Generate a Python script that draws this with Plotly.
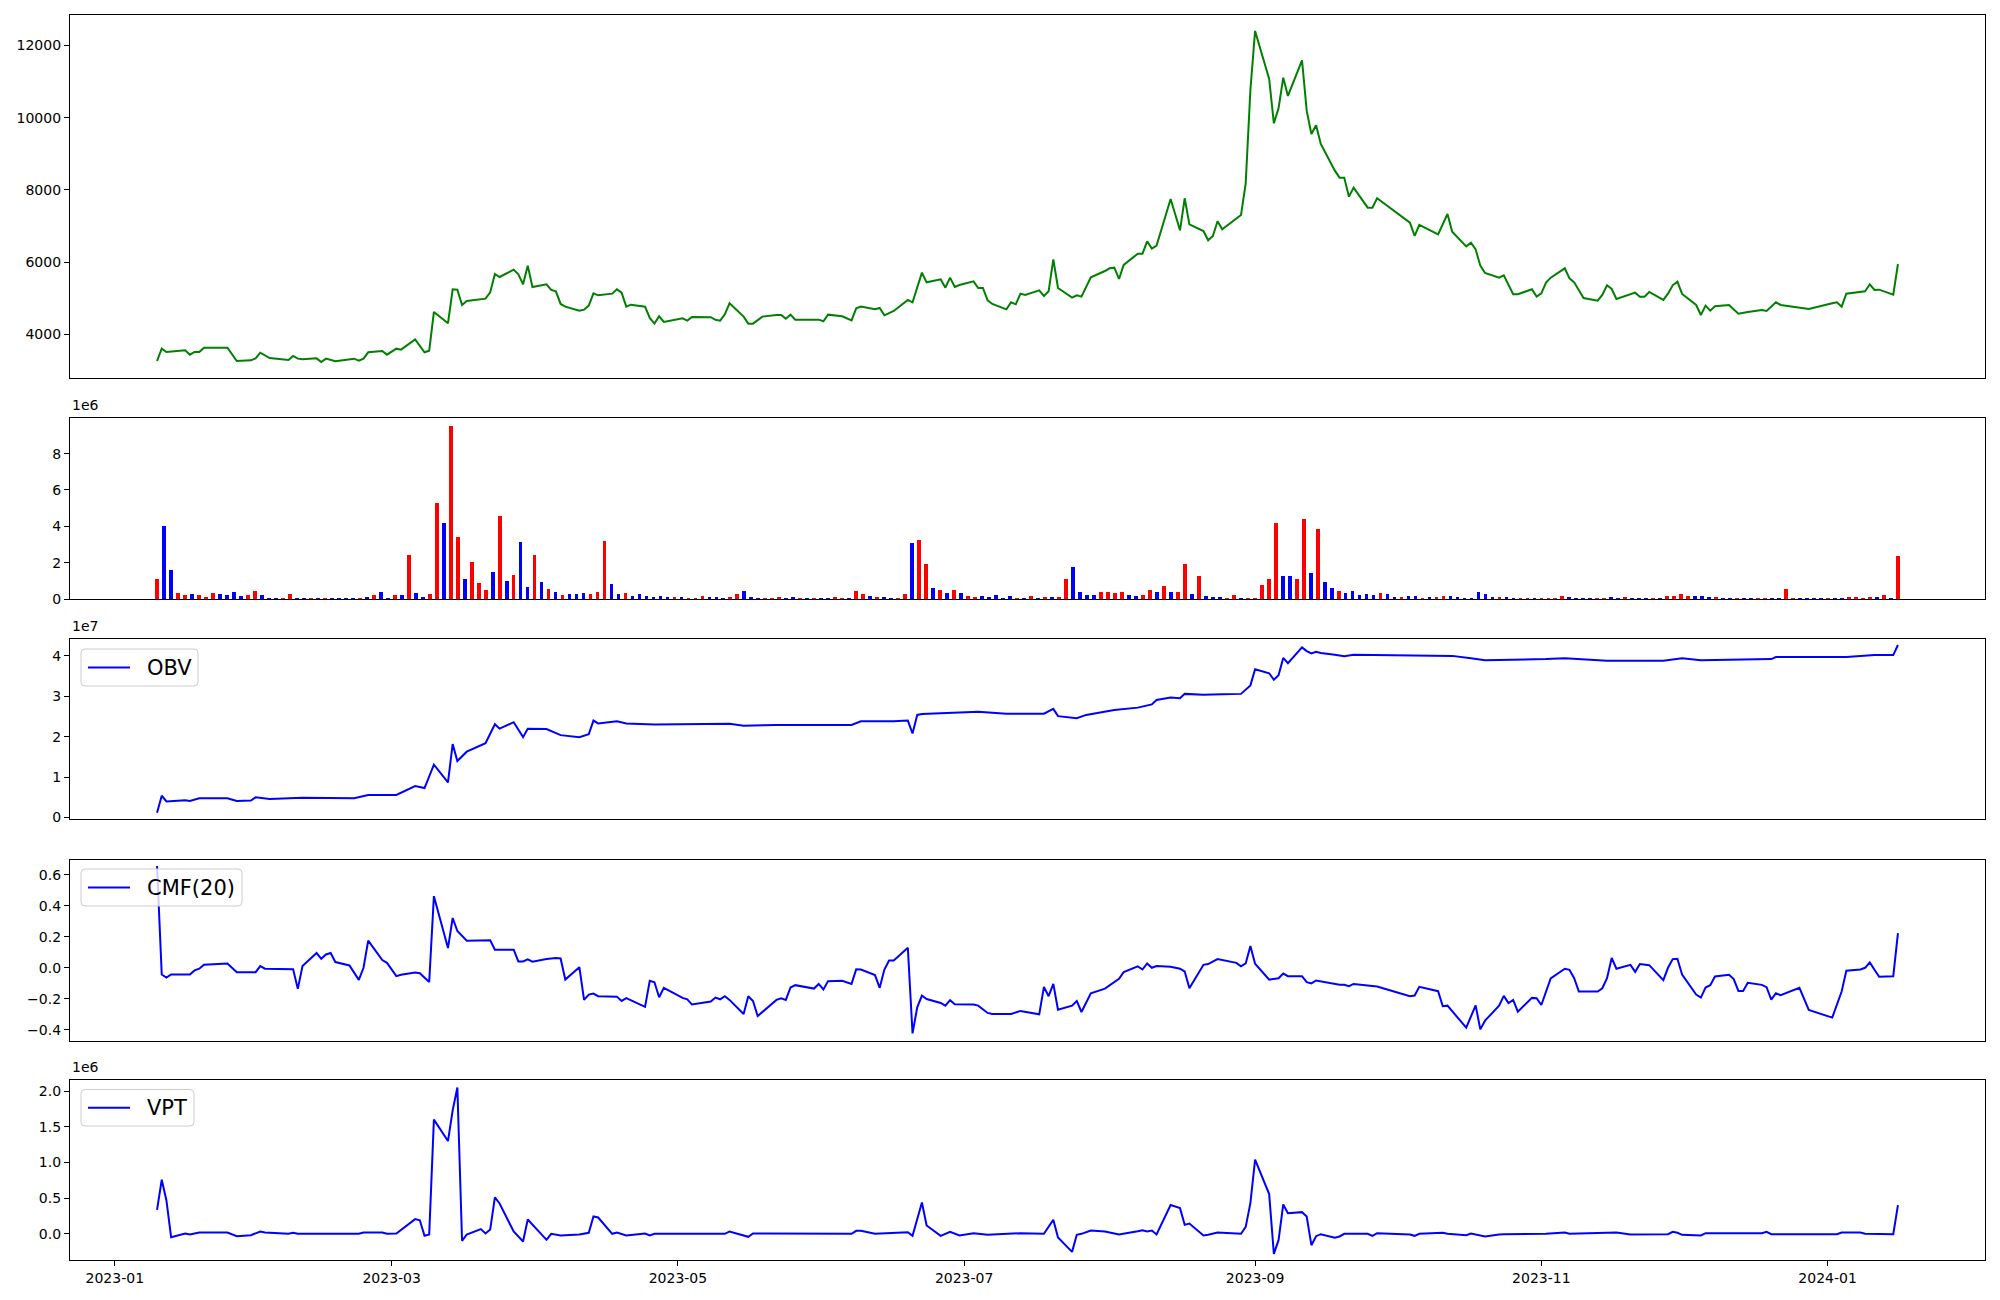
import pandas as pd
import plotly.graph_objects as go
from plotly.subplots import make_subplots

# ---------------- data ----------------
PRICE_DATES = [
    "2023-01-10","2023-01-11","2023-01-12","2023-01-16","2023-01-17","2023-01-18","2023-01-19","2023-01-20",
    "2023-01-25","2023-01-27","2023-01-30","2023-01-31","2023-02-01","2023-02-03","2023-02-07","2023-02-08",
    "2023-02-09","2023-02-10","2023-02-13","2023-02-14","2023-02-15","2023-02-17","2023-02-21","2023-02-22",
    "2023-02-23","2023-02-24","2023-02-27","2023-02-28","2023-03-02","2023-03-03","2023-03-06","2023-03-08",
    "2023-03-09","2023-03-10","2023-03-13","2023-03-14","2023-03-15","2023-03-16","2023-03-17","2023-03-21",
    "2023-03-22","2023-03-23","2023-03-24","2023-03-27","2023-03-28","2023-03-29","2023-03-30","2023-03-31",
    "2023-04-03","2023-04-04","2023-04-05","2023-04-06","2023-04-07","2023-04-10","2023-04-11","2023-04-12",
    "2023-04-13","2023-04-14","2023-04-17","2023-04-18","2023-04-19","2023-04-20","2023-04-21","2023-04-24",
    "2023-04-25","2023-04-26","2023-04-27","2023-04-28","2023-05-02","2023-05-03","2023-05-04","2023-05-08",
    "2023-05-09","2023-05-10","2023-05-11","2023-05-12","2023-05-15","2023-05-16","2023-05-17","2023-05-19",
    "2023-05-22","2023-05-23","2023-05-24","2023-05-25","2023-05-26","2023-05-31","2023-06-01","2023-06-02",
    "2023-06-05","2023-06-07","2023-06-08","2023-06-09","2023-06-12","2023-06-13","2023-06-14","2023-06-15",
    "2023-06-16","2023-06-19","2023-06-20","2023-06-22","2023-06-23","2023-06-26","2023-06-27","2023-06-28",
    "2023-06-29","2023-06-30","2023-07-03","2023-07-04","2023-07-05","2023-07-06","2023-07-07","2023-07-10",
    "2023-07-11","2023-07-12","2023-07-13","2023-07-14","2023-07-17","2023-07-18","2023-07-19","2023-07-20",
    "2023-07-21","2023-07-24","2023-07-25","2023-07-26","2023-07-27","2023-07-28","2023-07-31","2023-08-01",
    "2023-08-02","2023-08-03","2023-08-04","2023-08-07","2023-08-08","2023-08-09","2023-08-10","2023-08-11",
    "2023-08-14","2023-08-16","2023-08-17","2023-08-18","2023-08-21","2023-08-22","2023-08-23","2023-08-24",
    "2023-08-25","2023-08-29","2023-08-30","2023-08-31","2023-09-01","2023-09-04","2023-09-05","2023-09-06",
    "2023-09-07","2023-09-08","2023-09-11","2023-09-12","2023-09-13","2023-09-14","2023-09-15","2023-09-18",
    "2023-09-19","2023-09-20","2023-09-21","2023-09-22","2023-09-25","2023-09-26","2023-09-27","2023-10-04",
    "2023-10-05","2023-10-06","2023-10-10","2023-10-11","2023-10-12","2023-10-13","2023-10-16","2023-10-17",
    "2023-10-18","2023-10-19","2023-10-20","2023-10-23","2023-10-24","2023-10-26","2023-10-27","2023-10-30",
    "2023-10-31","2023-11-01","2023-11-02","2023-11-03","2023-11-06","2023-11-07","2023-11-08","2023-11-10",
    "2023-11-13","2023-11-14","2023-11-15","2023-11-16","2023-11-17","2023-11-21","2023-11-22","2023-11-23",
    "2023-11-24","2023-11-27","2023-11-28","2023-11-29","2023-11-30","2023-12-01","2023-12-04","2023-12-05",
    "2023-12-06","2023-12-07","2023-12-08","2023-12-11","2023-12-12","2023-12-13","2023-12-15","2023-12-18",
    "2023-12-19","2023-12-20","2023-12-21","2023-12-22","2023-12-26","2023-12-28","2024-01-02","2024-01-03",
    "2024-01-04","2024-01-05","2024-01-09","2024-01-10","2024-01-11","2024-01-12","2024-01-15","2024-01-16",
]
PRICE = [
    3257,3599,3507,3553,3433,3507,3507,3627,
    3627,3257,3276,3331,3488,3340,3285,3396,
    3322,3303,3331,3229,3322,3248,3322,3266,
    3322,3498,3535,3433,3599,3572,3858,3498,
    3544,4616,4302,5244,5235,4810,4921,4985,
    5161,5669,5586,5790,5660,5383,5900,5309,
    5383,5226,5189,4838,4764,4653,4681,4792,
    5134,5078,5124,5244,5152,4764,4819,4764,
    4450,4293,4496,4339,4441,4376,4478,4472,
    4400,4376,4552,4857,4487,4293,4293,4487,
    4533,4533,4431,4542,4404,4404,4358,4542,
    4496,4385,4718,4764,4690,4727,4524,4579,
    4644,4949,4884,5706,5438,5521,5290,5567,
    5309,5364,5466,5281,5281,4939,4838,4690,
    4884,4829,5124,5087,5217,5060,5189,6076,
    5281,5013,5078,5041,5309,5577,5752,5826,
    5845,5531,5919,6233,6233,6575,6372,6455,
    7749,6880,7767,7046,6861,6603,6723,7130,
    6908,7305,8183,10770,12406,11075,9846,10262,
    11112,10604,11593,10197,9550,9791,9273,8534,
    8340,8340,7813,8063,7508,7508,7767,7092,
    6723,7028,6769,7074,7333,6843,6436,6538,
    6353,5900,5697,5567,5632,5106,5106,5244,
    5041,5134,5429,5567,5826,5549,5438,5004,
    4930,5087,5355,5253,4976,5152,5041,5041,
    5170,4949,5124,5355,5457,5115,4810,4533,
    4792,4653,4773,4810,4699,4570,4616,4671,
    4644,4764,4884,4810,4736,4699,4857,4884,
    4764,5124,5189,5383,5226,5235,5096,5946,
]

# volume per trading day, in millions; U = red bar, D = blue bar
VOLUME_M = [
    1.08,4.00,1.58,0.31,0.20,0.26,0.20,0.09,0.31,0.26,
    0.20,0.37,0.15,0.20,0.42,0.20,0.04,0.04,0.04,0.26,
    0.04,0.04,0.04,0.04,0.04,0.04,0.04,0.04,0.01,0.04,
    0.09,0.20,0.37,0.04,0.20,0.20,2.41,0.31,0.09,0.26,
    5.28,4.17,9.52,3.40,1.08,2.02,0.86,0.48,1.47,4.56,
    0.97,1.30,3.13,0.64,2.41,0.92,0.53,0.37,0.20,0.26,
    0.26,0.31,0.26,0.37,3.18,0.81,0.26,0.31,0.15,0.26,
    0.15,0.09,0.15,0.09,0.09,0.09,0.04,0.04,0.15,0.09,
    0.09,0.04,0.09,0.26,0.42,0.09,0.04,0.04,0.04,0.09,
    0.04,0.09,0.04,0.04,0.04,0.04,0.01,0.09,0.01,0.04,
    0.42,0.26,0.15,0.09,0.09,0.01,0.04,0.26,3.07,3.24,
    1.91,0.59,0.48,0.31,0.48,0.31,0.15,0.09,0.15,0.09,
    0.20,0.04,0.15,0.04,0.04,0.15,0.04,0.09,0.09,0.09,
    1.08,1.75,0.37,0.20,0.20,0.37,0.37,0.31,0.37,0.20,
    0.15,0.20,0.48,0.37,0.70,0.37,0.37,1.91,0.26,1.25,
    0.15,0.09,0.09,0.04,0.20,0.04,0.04,0.01,0.75,1.08,
    4.17,1.25,1.25,1.08,4.39,1.42,3.84,0.92,0.59,0.42,
    0.31,0.42,0.20,0.26,0.20,0.31,0.26,0.09,0.09,0.15,
    0.15,0.04,0.09,0.09,0.15,0.15,0.09,0.04,0.04,0.37,
    0.26,0.09,0.09,0.09,0.04,0.04,0.04,0.04,0.04,0.04,
    0.04,0.15,0.09,0.04,0.04,0.04,0.04,0.04,0.09,0.04,
    0.09,0.04,0.04,0.04,0.04,0.04,0.15,0.15,0.26,0.15,
    0.15,0.15,0.09,0.09,0.01,0.01,0.04,0.04,0.04,0.04,
    0.04,0.01,0.01,0.53,0.04,0.04,0.04,0.01,0.01,0.04,
    0.04,0.04,0.09,0.09,0.04,0.09,0.09,0.20,0.04,2.35,
]
VOLUME_DIR = (
    "UDDUUDUUUD" "DDDUUDDDUU" "DDUDUDDDDU" "DUDDUDUDDU"
    "UDUUDUUUDU" "DUDDUDUDUD" "DDUUUDDUDD" "DDDDUDUUUD"
    "DDUUDDDUUU" "DDUDUDDUUD" "UUDUDDUUDU" "UDUDUDUUDD"
    "DDDUDUDUDU" "UDDDDUUUUD" "DUUDUDUUDU" "DDDUUDUUUU"
    "UDDUUDUDDU" "DDDDDUDDUD" "DUDUUDDDDD" "DDUDDUUDUU"
    "UUDDDDUUDD" "UDDDUDUUUU" "DDDUDDUDDU" "UDDUUDDDDU"
    "DDUUUUDUDU"
)
VOLUME_START, VOLUME_END = "2023-01-10", "2024-01-16"

OBV_DATES = [
    "2023-01-10","2023-01-11","2023-01-12","2023-01-16","2023-01-17","2023-01-19","2023-01-25","2023-01-27",
    "2023-01-30","2023-01-31","2023-02-03","2023-02-10","2023-02-21","2023-02-24","2023-03-02","2023-03-06",
    "2023-03-08","2023-03-10","2023-03-13","2023-03-14","2023-03-15","2023-03-17","2023-03-21","2023-03-23",
    "2023-03-24","2023-03-27","2023-03-29","2023-03-30","2023-04-03","2023-04-06","2023-04-10","2023-04-12",
    "2023-04-13","2023-04-14","2023-04-18","2023-04-20","2023-04-26","2023-05-08","2023-05-12","2023-05-15",
    "2023-05-22","2023-06-07","2023-06-09","2023-06-16","2023-06-19","2023-06-20","2023-06-21","2023-06-22",
    "2023-06-26","2023-06-28","2023-07-04","2023-07-10","2023-07-18","2023-07-20","2023-07-21","2023-07-25",
    "2023-07-27","2023-08-02","2023-08-07","2023-08-10","2023-08-11","2023-08-14","2023-08-16","2023-08-17",
    "2023-08-21","2023-08-25","2023-08-29","2023-08-31","2023-09-01","2023-09-04","2023-09-05","2023-09-06",
    "2023-09-07","2023-09-08","2023-09-11","2023-09-12","2023-09-13","2023-09-14","2023-09-15","2023-09-18",
    "2023-09-20","2023-09-22","2023-10-05","2023-10-13","2023-10-17","2023-10-20","2023-11-02","2023-11-06",
    "2023-11-15","2023-11-27","2023-12-01","2023-12-05","2023-12-20","2023-12-21","2024-01-05","2024-01-11",
    "2024-01-15","2024-01-16",
]
OBV_1E7 = [
    0.12,0.54,0.40,0.43,0.41,0.48,0.48,0.41,
    0.42,0.50,0.46,0.49,0.48,0.56,0.56,0.78,
    0.73,1.31,0.87,1.82,1.40,1.63,1.84,2.31,
    2.20,2.36,1.99,2.20,2.19,2.04,1.99,2.06,
    2.40,2.33,2.38,2.33,2.30,2.32,2.32,2.27,
    2.29,2.29,2.38,2.38,2.40,2.08,2.54,2.56,
    2.58,2.60,2.62,2.57,2.57,2.69,2.51,2.46,
    2.54,2.66,2.72,2.80,2.91,2.97,2.95,3.06,
    3.04,3.05,3.06,3.27,3.67,3.57,3.41,3.52,
    3.95,3.82,4.21,4.12,4.06,4.10,4.07,4.03,
    3.99,4.03,4.00,4.00,3.94,3.89,3.92,3.94,
    3.88,3.88,3.94,3.89,3.92,3.97,3.97,4.02,
    4.02,4.27,
]

CMF_DATES = [
    "2023-01-10","2023-01-11","2023-01-12","2023-01-13","2023-01-17","2023-01-18","2023-01-19","2023-01-20",
    "2023-01-25","2023-01-27","2023-01-31","2023-02-01","2023-02-02","2023-02-07","2023-02-08","2023-02-09",
    "2023-02-10","2023-02-13","2023-02-14","2023-02-15","2023-02-16","2023-02-17","2023-02-20","2023-02-22",
    "2023-02-23","2023-02-24","2023-02-27","2023-02-28","2023-03-02","2023-03-03","2023-03-06","2023-03-07",
    "2023-03-09","2023-03-10","2023-03-13","2023-03-14","2023-03-15","2023-03-17","2023-03-22","2023-03-23",
    "2023-03-27","2023-03-28","2023-03-29","2023-03-30","2023-03-31","2023-04-03","2023-04-04","2023-04-05",
    "2023-04-06","2023-04-07","2023-04-10","2023-04-11","2023-04-12","2023-04-13","2023-04-14","2023-04-17",
    "2023-04-18","2023-04-19","2023-04-20","2023-04-24","2023-04-25","2023-04-26","2023-04-27","2023-04-28",
    "2023-05-02","2023-05-03","2023-05-04","2023-05-08","2023-05-09","2023-05-10","2023-05-11","2023-05-12",
    "2023-05-15","2023-05-16","2023-05-17","2023-05-18","2023-05-22","2023-05-23","2023-05-24","2023-05-25",
    "2023-05-26","2023-05-30","2023-05-31","2023-06-01","2023-06-02","2023-06-05","2023-06-07","2023-06-08",
    "2023-06-09","2023-06-12","2023-06-13","2023-06-14","2023-06-15","2023-06-16","2023-06-19","2023-06-20",
    "2023-06-21","2023-06-22","2023-06-23","2023-06-26","2023-06-27","2023-06-28","2023-06-29","2023-07-03",
    "2023-07-04","2023-07-06","2023-07-07","2023-07-11","2023-07-13","2023-07-17","2023-07-18","2023-07-19",
    "2023-07-20","2023-07-21","2023-07-24","2023-07-25","2023-07-26","2023-07-28","2023-07-31","2023-08-03",
    "2023-08-04","2023-08-07","2023-08-08","2023-08-09","2023-08-10","2023-08-11","2023-08-14","2023-08-16",
    "2023-08-17","2023-08-18","2023-08-21","2023-08-22","2023-08-24","2023-08-28","2023-08-29","2023-08-30",
    "2023-08-31","2023-09-01","2023-09-04","2023-09-06","2023-09-07","2023-09-08","2023-09-11","2023-09-12",
    "2023-09-13","2023-09-14","2023-09-19","2023-09-20","2023-09-21","2023-09-22","2023-09-27","2023-10-04",
    "2023-10-05","2023-10-06","2023-10-10","2023-10-11","2023-10-12","2023-10-16","2023-10-17","2023-10-18",
    "2023-10-19","2023-10-20","2023-10-23","2023-10-24","2023-10-25","2023-10-26","2023-10-27","2023-10-30",
    "2023-10-31","2023-11-01","2023-11-03","2023-11-06","2023-11-07","2023-11-08","2023-11-09","2023-11-13",
    "2023-11-14","2023-11-15","2023-11-16","2023-11-17","2023-11-20","2023-11-21","2023-11-22","2023-11-24",
    "2023-11-27","2023-11-28","2023-11-29","2023-11-30","2023-12-01","2023-12-04","2023-12-05","2023-12-06",
    "2023-12-07","2023-12-08","2023-12-11","2023-12-12","2023-12-13","2023-12-14","2023-12-15","2023-12-18",
    "2023-12-19","2023-12-20","2023-12-21","2023-12-22","2023-12-26","2023-12-28","2024-01-02","2024-01-03",
    "2024-01-04","2024-01-05","2024-01-08","2024-01-09","2024-01-10","2024-01-11","2024-01-12","2024-01-15",
    "2024-01-16",
]
CMF = [
    0.656,-0.043,-0.063,-0.043,-0.043,-0.017,-0.006,0.019,
    0.028,-0.028,-0.028,0.011,-0.006,-0.006,-0.010,-0.136,
    0.011,0.095,0.058,0.086,0.095,0.037,0.015,-0.078,
    0.000,0.175,0.050,0.032,-0.054,-0.045,-0.030,-0.035,
    -0.091,0.462,0.127,0.321,0.237,0.175,0.177,0.117,
    0.117,0.041,0.041,0.054,0.039,0.056,0.058,0.063,
    0.060,-0.076,0.004,-0.207,-0.173,-0.166,-0.183,-0.186,
    -0.186,-0.214,-0.196,-0.252,-0.084,-0.093,-0.190,-0.129,
    -0.194,-0.203,-0.237,-0.218,-0.192,-0.203,-0.183,-0.207,
    -0.298,-0.183,-0.214,-0.311,-0.207,-0.196,-0.207,-0.127,
    -0.112,-0.134,-0.104,-0.140,-0.086,-0.084,-0.104,-0.009,
    -0.011,-0.047,-0.129,-0.011,0.047,0.047,0.129,-0.423,
    -0.255,-0.179,-0.201,-0.227,-0.244,-0.209,-0.235,-0.237,
    -0.244,-0.291,-0.298,-0.298,-0.278,-0.300,-0.123,-0.183,
    -0.104,-0.270,-0.244,-0.214,-0.285,-0.164,-0.134,-0.071,
    -0.028,0.009,-0.011,0.028,0.000,0.011,0.006,-0.006,
    -0.024,-0.132,0.019,0.024,0.056,0.032,0.009,0.028,
    0.140,0.026,-0.076,-0.067,-0.037,-0.054,-0.054,-0.093,
    -0.101,-0.082,-0.110,-0.110,-0.119,-0.104,-0.121,-0.183,
    -0.179,-0.123,-0.151,-0.248,-0.244,-0.386,-0.309,-0.242,
    -0.397,-0.341,-0.244,-0.181,-0.227,-0.207,-0.283,-0.194,
    -0.196,-0.240,-0.069,-0.006,-0.013,-0.067,-0.153,-0.153,
    -0.132,-0.067,0.063,-0.006,0.019,-0.026,0.024,0.017,
    -0.080,0.000,0.056,0.058,-0.043,-0.172,-0.192,-0.127,
    -0.112,-0.056,-0.045,-0.073,-0.149,-0.149,-0.097,-0.110,
    -0.125,-0.205,-0.164,-0.177,-0.129,-0.272,-0.321,-0.235,
    -0.153,-0.019,-0.011,0.000,0.035,-0.013,-0.058,-0.054,
    0.224,
]

VPT_DATES = [
    "2023-01-10","2023-01-11","2023-01-12","2023-01-13","2023-01-16","2023-01-17","2023-01-19","2023-01-25",
    "2023-01-27","2023-01-30","2023-02-01","2023-02-02","2023-02-07","2023-02-08","2023-02-09","2023-02-22",
    "2023-02-23","2023-02-27","2023-02-28","2023-03-02","2023-03-06","2023-03-07","2023-03-08","2023-03-09",
    "2023-03-10","2023-03-13","2023-03-14","2023-03-15","2023-03-16","2023-03-17","2023-03-20","2023-03-21",
    "2023-03-22","2023-03-23","2023-03-24","2023-03-27","2023-03-29","2023-03-30","2023-04-03","2023-04-04",
    "2023-04-06","2023-04-10","2023-04-12","2023-04-13","2023-04-14","2023-04-17","2023-04-18","2023-04-19",
    "2023-04-20","2023-04-24","2023-04-25","2023-04-26","2023-05-11","2023-05-12","2023-05-16","2023-05-17",
    "2023-06-07","2023-06-08","2023-06-09","2023-06-12","2023-06-19","2023-06-20","2023-06-22","2023-06-23",
    "2023-06-26","2023-06-28","2023-06-29","2023-06-30","2023-07-03","2023-07-06","2023-07-13","2023-07-18",
    "2023-07-20","2023-07-21","2023-07-24","2023-07-25","2023-07-26","2023-07-28","2023-07-31","2023-08-03",
    "2023-08-07","2023-08-08","2023-08-09","2023-08-10","2023-08-11","2023-08-14","2023-08-16","2023-08-17",
    "2023-08-18","2023-08-21","2023-08-22","2023-08-24","2023-08-29","2023-08-30","2023-08-31","2023-09-01",
    "2023-09-04","2023-09-05","2023-09-06","2023-09-07","2023-09-08","2023-09-11","2023-09-12","2023-09-13",
    "2023-09-14","2023-09-15","2023-09-18","2023-09-19","2023-09-20","2023-09-25","2023-09-26","2023-09-27",
    "2023-10-04","2023-10-05","2023-10-06","2023-10-11","2023-10-12","2023-10-16","2023-10-17","2023-10-18",
    "2023-10-19","2023-10-20","2023-10-23","2023-10-24","2023-11-02","2023-11-06","2023-11-07","2023-11-16",
    "2023-11-17","2023-11-20","2023-11-28","2023-11-29","2023-11-30","2023-12-01","2023-12-04","2023-12-05",
    "2023-12-06","2023-12-18","2023-12-19","2023-12-20","2024-01-03","2024-01-04","2024-01-08","2024-01-09",
    "2024-01-15","2024-01-16",
]
VPT_1E6 = [
    0.337,0.758,0.468,-0.047,0.005,-0.009,0.019,0.019,
    -0.033,-0.019,0.033,0.019,0.000,0.014,0.000,0.000,
    0.019,0.019,0.000,0.005,0.206,0.190,-0.028,-0.009,
    1.601,1.301,1.732,2.051,-0.098,-0.009,0.066,0.005,
    0.061,0.510,0.426,0.033,-0.108,0.201,-0.084,0.000,
    -0.023,-0.010,0.014,0.243,0.229,0.000,0.019,0.000,
    -0.023,0.005,-0.023,0.000,0.000,0.033,-0.042,0.005,
    0.000,0.042,0.042,0.000,0.023,-0.028,0.440,0.117,
    -0.028,0.028,0.000,-0.023,0.009,-0.014,0.009,0.000,
    0.197,-0.051,-0.253,-0.014,0.000,0.047,0.033,-0.009,
    0.037,0.051,0.033,0.047,-0.009,0.403,0.360,0.126,
    0.145,-0.023,-0.014,0.019,0.000,0.098,0.431,1.039,
    0.557,-0.281,-0.089,0.412,0.290,0.304,0.243,-0.159,
    -0.033,-0.005,-0.056,-0.037,0.000,0.000,-0.028,0.009,
    -0.009,-0.028,0.000,0.014,0.000,-0.019,0.005,-0.009,
    -0.028,-0.037,-0.009,-0.005,0.000,0.019,0.000,0.009,
    0.019,-0.009,-0.005,0.028,0.014,-0.014,-0.023,-0.023,
    0.009,0.009,0.028,-0.005,-0.005,0.019,0.019,0.000,
    -0.005,0.403,
]

PRICE_TICKS = [4000, 6000, 8000, 10000, 12000]
VOLUME_TICKS = [0, 2, 4, 6, 8]
OBV_TICKS = [0, 1, 2, 3, 4]
CMF_TICKS = [-0.4, -0.2, 0.0, 0.2, 0.4, 0.6]
CMF_TICK_TEXT = ["\u22120.4", "\u22120.2", "0.0", "0.2", "0.4", "0.6"]
VPT_TICKS = [0.0, 0.5, 1.0, 1.5, 2.0]
VPT_TICK_TEXT = ["0.0", "0.5", "1.0", "1.5", "2.0"]
LEGEND_LABELS = ["OBV", "CMF(20)", "VPT"]

# ---------------- figure ----------------
FONT = "DejaVu Sans"
W, H = 2000, 1300
ML, MR, MT, MB = 70, 15, 15, 40
plot_w = W - ML - MR
plot_h = H - MT - MB


def px(xp):
    return (xp - ML) / plot_w


def py(yp):
    return (H - MB - yp) / plot_h


def dom(top_px, bottom_px):
    return [py(bottom_px), py(top_px)]


fig = make_subplots(rows=5, cols=1, shared_xaxes=True)

fig.add_trace(go.Scatter(x=PRICE_DATES, y=PRICE, mode="lines",
                         line=dict(color="green", width=2), showlegend=False), row=1, col=1)

vol_x = pd.date_range(VOLUME_START, VOLUME_END, periods=len(VOLUME_M))
vol_colors = ["#ff0000" if d == "U" else "#0000ff" for d in VOLUME_DIR[:len(VOLUME_M)]]
fig.add_trace(go.Bar(x=vol_x, y=VOLUME_M, marker=dict(color=vol_colors, line=dict(width=0)),
                     width=0.8 * 86400000, showlegend=False), row=2, col=1)

fig.add_trace(go.Scatter(x=OBV_DATES, y=OBV_1E7, mode="lines", name=LEGEND_LABELS[0],
                         line=dict(color="#0000ff", width=2), showlegend=False), row=3, col=1)
fig.add_trace(go.Scatter(x=CMF_DATES, y=CMF, mode="lines", name=LEGEND_LABELS[1],
                         line=dict(color="#0000ff", width=2), showlegend=False), row=4, col=1)
fig.add_trace(go.Scatter(x=VPT_DATES, y=VPT_1E6, mode="lines", name=LEGEND_LABELS[2],
                         line=dict(color="#0000ff", width=2), showlegend=False), row=5, col=1)

panels = [(15, 378), (418, 599), (638.5, 819), (860, 1041), (1080, 1260)]
yranges = [[2786, 12848], [0, 9.96], [-0.035, 4.43], [-0.472, 0.695], [-0.367, 2.157]]
ytickvals = [PRICE_TICKS, VOLUME_TICKS, OBV_TICKS, CMF_TICKS, VPT_TICKS]
yticktext = [[str(v) for v in PRICE_TICKS], [str(v) for v in VOLUME_TICKS],
             [str(v) for v in OBV_TICKS], CMF_TICK_TEXT, VPT_TICK_TEXT]

axis_common = dict(showline=True, linecolor="black", linewidth=1.2, mirror=True,
                   tickwidth=1, tickcolor="black", automargin=False,
                   showgrid=False, zeroline=False,
                   tickfont=dict(family=FONT, size=14, color="black"))

for i in range(5):
    yname = "yaxis" if i == 0 else f"yaxis{i+1}"
    xname = "xaxis" if i == 0 else f"xaxis{i+1}"
    fig.layout[yname].update(domain=dom(*panels[i]), range=yranges[i],
                             tickmode="array", tickvals=ytickvals[i], ticktext=yticktext[i],
                             ticks="outside", ticklen=5, **axis_common)
    fig.layout[xname].update(range=["2022-12-22 10:48", "2024-02-03 13:12"],
                             type="date", tickformat="%Y-%m", dtick="M2", tick0="2023-01-01",
                             showticklabels=(i == 4), ticks=("outside" if i == 4 else ""),
                             ticklen=5, **axis_common)

# offset labels ("1e6", "1e7", "1e6")
for text, top in [("1e6", 418), ("1e7", 638.5), ("1e6", 1080)]:
    fig.add_annotation(text=text, xref="paper", yref="paper", x=0,
                       y=py(top - 3), xanchor="left", yanchor="bottom",
                       showarrow=False, font=dict(family=FONT, size=14, color="black"))


# matplotlib-like legends drawn as shapes + text (box px: left, top, right, bottom)
def rounded_rect(x0, y0, x1, y1, r=4):
    X0, X1 = px(x0), px(x1)
    Y0, Y1 = py(y0), py(y1)  # Y0 top, Y1 bottom (paper)
    rx, ry = r / plot_w, r / plot_h
    return (f"M {X0+rx},{Y0} L {X1-rx},{Y0} Q {X1},{Y0} {X1},{Y0-ry} "
            f"L {X1},{Y1+ry} Q {X1},{Y1} {X1-rx},{Y1} L {X0+rx},{Y1} "
            f"Q {X0},{Y1} {X0},{Y1+ry} L {X0},{Y0-ry} Q {X0},{Y0} {X0+rx},{Y0} Z")


legend_boxes = [(81, 649, 198, 686), (81, 869, 242, 906), (81, 1089.5, 194, 1126)]
for label, (l, t, r, b) in zip(LEGEND_LABELS, legend_boxes):
    fig.add_shape(type="path", path=rounded_rect(l, t, r, b), xref="paper", yref="paper",
                  fillcolor="rgba(255,255,255,0.8)", line=dict(color="#cccccc", width=1), layer="above")
    yc = (t + b) / 2
    fig.add_shape(type="line", xref="paper", yref="paper", x0=px(l + 7), x1=px(l + 49),
                  y0=py(yc), y1=py(yc), line=dict(color="#0000ff", width=2), layer="above")
    fig.add_annotation(text=label, xref="paper", yref="paper", x=px(l + 64), y=py(yc),
                       xanchor="left", yanchor="middle", showarrow=False,
                       font=dict(family=FONT, size=21, color="black"))

fig.update_layout(
    width=W, height=H,
    margin=dict(l=ML, r=MR, t=MT, b=MB),
    paper_bgcolor="white", plot_bgcolor="white",
    font=dict(family=FONT, size=14, color="black"),
    bargap=0, showlegend=False,
)

fig.write_html("out.html", config={"displayModeBar": False},
               post_script="document.body.style.margin='0px';")
